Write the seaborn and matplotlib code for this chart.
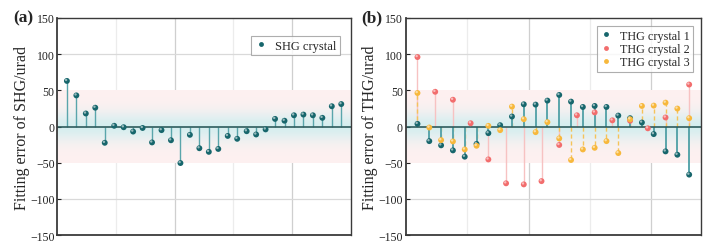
import numpy as np
import pandas as pd
import seaborn as sns
import matplotlib.pyplot as plt
from matplotlib import transforms

# ---- data ----
shg_err = [63, 43, 18, 26, -22.5, 1, -1, -7, -2, -22, -5, -19, -50.5, -11.5, -30,
           -35, -31, -13, -17, -6.5, -11, -4, 10.5, 8, 15.5, 16.5, 15.5, 12, 28, 31]

thg1_err = [3.7, -20.2, -26, -33, -41.7, -24, -9.2, 1.8, 13.8, 30.7, 30.3, 35.8,
            43.6, 34.4, 27, 28.4, 27, 15.1, 11.5, 5.5, -10.5, -34.4, -39, -66.5]
thg3_err = [46.3, -1.4, -18.8, -20.6, -31.7, -26.6, 0.9, -5, 27.5, 10.1, -7.8, 6,
            -16.5, -46.3, -31.7, -29.4, -20.2, -36.7, 10, 28.4, 28.9, 33, 24.8, 11.5]
thg2_pos = [1, 2.5, 4, 5.5, 7, 8.5, 10, 11.5, 13, 14.5, 16, 17.5, 19, 20.5, 22, 24]
thg2_err = [96, 48, 37, 4.5, -45.5, -78.5, -80, -75.5, -25.5, 15.5, 19.5, 8.5, 8,
            -2.5, 12.5, 58]

shg_pos = np.arange(1, len(shg_err) + 1)
thg_pos = np.arange(1, len(thg1_err) + 1)

TEAL, TEAL_STEM = '#17666c', '#5aa5ab'
RED, RED_STEM = '#f26d6d', '#f7c2c2'
YEL, YEL_STEM = '#f7b83c', '#f5c35a'

sns.set_theme(style='white')
plt.rcParams['font.family'] = ['Liberation Serif', 'DejaVu Serif']
plt.rcParams['axes.unicode_minus'] = True

fig = plt.figure(figsize=(7.18, 2.53), dpi=100)
ax_a = fig.add_axes([0.080, 0.067, 0.4085, 0.858])
ax_b = fig.add_axes([0.565, 0.067, 0.4113, 0.858])


def band(ax, xmax):
    # faint pink band with a cyan glow around zero
    y = np.linspace(50, -50, 200)[:, None]
    w = np.exp(-(y / 20.0) ** 2)
    pink = np.array([0.995, 0.945, 0.945])
    cyan = np.array([0.84, 0.935, 0.94])
    img = pink * (1 - w[..., None]) + cyan * w[..., None]
    img = np.repeat(img, 2, axis=1)
    ax.imshow(img, extent=[0, xmax, -50, 50], aspect='auto', zorder=0.5,
              interpolation='bilinear')


def style(ax, xmax, grid_step):
    ax.set_xlim(0, xmax)
    ax.set_ylim(-150, 150)
    ax.set_yticks(np.arange(-150, 151, 50))
    ax.set_xticks([])
    for k in (1, 2, 3, 4):
        c = '#cfcfcf' if k % 2 == 0 else '#ececec'
        ax.axvline(k * grid_step, color=c, lw=0.9, zorder=0.2)
    for yy in (-100, 100):
        ax.axhline(yy, color='#d9d9d9', lw=0.9, zorder=0.2)
    ax.axhline(0, color='#2f5c5d', lw=1.2, zorder=2)
    ax.tick_params(axis='y', direction='in', length=3, width=0.8,
                   labelsize=8.5, pad=2, colors='#222222', left=True)
    for s in ax.spines.values():
        s.set_color('#3a3a3a')
        s.set_linewidth(1.0)
    ax.spines['left'].set_linewidth(1.3)
    ax.spines['bottom'].set_linewidth(1.3)


def balls(ax, x, y, color, label, z):
    df = pd.DataFrame({'x': x, 'y': y})
    sns.scatterplot(data=df, x='x', y='y', ax=ax, color=color, s=18,
                    edgecolor='none', label=label, zorder=z, legend=False)
    hl = transforms.offset_copy(ax.transData, fig=fig, x=-0.6, y=0.7, units='points')
    ax.scatter(x, y, s=3, color='white', alpha=0.55, edgecolor='none',
               transform=hl, zorder=z + 0.1)


# ---- (a) SHG ----
band(ax_a, 31)
style(ax_a, 31, 6.2)
ax_a.vlines(shg_pos, 0, shg_err, color=TEAL_STEM, lw=1.0, zorder=1.5)
balls(ax_a, shg_pos, shg_err, TEAL, 'SHG crystal', 3)
ax_a.set_xlabel('')
ax_a.set_ylabel('Fitting error of SHG/urad', fontsize=11.5)
ax_a.yaxis.set_label_coords(-0.093, 0.5)

# ---- (b) THG ----
band(ax_b, 25)
style(ax_b, 25, 5.2)
ax_b.vlines(thg2_pos, 0, thg2_err, color=RED_STEM, lw=1.0, zorder=1.2)
ax_b.vlines(thg_pos, 0, thg3_err, color=YEL_STEM, lw=1.0, linestyles=(0, (3, 2)), zorder=1.3)
ax_b.vlines(thg_pos, 0, thg1_err, color=TEAL_STEM, lw=1.4, zorder=1.4)
balls(ax_b, thg_pos, thg1_err, TEAL, 'THG crystal 1', 3)
balls(ax_b, thg2_pos, thg2_err, RED, 'THG crystal 2', 3.2)
balls(ax_b, thg_pos, thg3_err, YEL, 'THG crystal 3', 3.4)
ax_b.set_xlabel('')
ax_b.set_ylabel('Fitting error of THG/urad', fontsize=11.5)
ax_b.yaxis.set_label_coords(-0.093, 0.5)


def legend(ax, labels, colors, anchor, fs):
    handles = [plt.Line2D([], [], ls='none', marker='o', ms=3.5, color=c, mec='none')
               for c in colors]
    lg = ax.legend(handles, labels, loc='upper right', bbox_to_anchor=anchor,
                   fontsize=fs, frameon=True, fancybox=False, borderpad=0.3,
                   handlelength=1.0, handletextpad=0.6, labelspacing=0.1,
                   borderaxespad=0.3)
    lg.get_frame().set_edgecolor('#9a9a9a')
    lg.get_frame().set_linewidth(0.8)
    lg.set_zorder(5)


legend(ax_a, ['SHG crystal'], [TEAL], (0.975, 0.935), 9)
legend(ax_b, ['THG crystal 1', 'THG crystal 2', 'THG crystal 3'], [TEAL, RED, YEL],
       (0.985, 0.98), 8.7)

fig.text(0.018, 0.928, '(a)', fontsize=12.5, fontweight='bold', va='center')
fig.text(0.503, 0.928, '(b)', fontsize=12.5, fontweight='bold', va='center')

fig.savefig('out.png', dpi=100)
